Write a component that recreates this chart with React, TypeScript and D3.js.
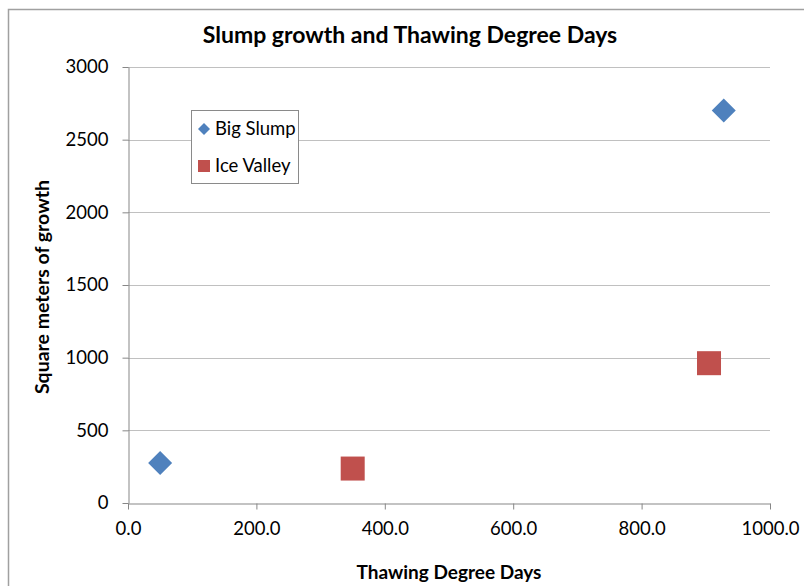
import * as d3 from "d3";
import { useEffect, useRef } from "react";

const W = 804;
const H = 586;

const bigSlumpX = [50, 928];
const bigSlumpY = [275, 2700];
const iceValleyX = [350, 905];
const iceValleyY = [237, 962];

const xTicks = [0, 200, 400, 600, 800, 1000];
const yTicks = [0, 500, 1000, 1500, 2000, 2500, 3000];

const seriesNames = ["Big Slump", "Ice Valley"];
const seriesColors = ["#4f81bd", "#c0504d"];

const FONT = "Lato, 'Open Sans', sans-serif";

export default function App() {
  const ref = useRef<SVGSVGElement>(null);

  useEffect(() => {
    const svg = d3.select(ref.current);
    svg.selectAll("*").remove();

    const left = 128;
    const right = 770;
    const top = 67;
    const bottom = 503;

    const x = d3.scaleLinear().domain([0, 1000]).range([left, right]);
    const y = d3.scaleLinear().domain([0, 3000]).range([bottom, top]);

    svg.append("rect").attr("width", W).attr("height", H).attr("fill", "#fff");

    // outer chart border
    svg
      .append("path")
      .attr("d", `M8.5,${H} V9.5 H${W}`)
      .attr("fill", "none")
      .attr("stroke", "#a0a0a0")
      .attr("stroke-width", 1.5);

    // gridlines
    svg
      .append("g")
      .selectAll("line")
      .data(yTicks.filter((t) => t > 0))
      .join("line")
      .attr("x1", left)
      .attr("x2", right)
      .attr("y1", (d) => Math.round(y(d)) + 0.5)
      .attr("y2", (d) => Math.round(y(d)) + 0.5)
      .attr("stroke", "#c0c0c0")
      .attr("stroke-width", 1.2);

    // y axis
    const yAxis = svg
      .append("g")
      .attr("transform", `translate(${left + 0.5},0)`)
      .call(
        d3
          .axisLeft(y)
          .tickValues(yTicks)
          .tickFormat((d) => String(d))
          .tickSize(6)
          .tickSizeOuter(0)
          .tickPadding(14)
      );
    yAxis.select(".domain").attr("stroke", "#878787");
    yAxis.selectAll(".tick line").attr("stroke", "#878787");
    yAxis
      .selectAll(".tick text")
      .attr("font-family", FONT)
      .attr("font-size", 18.5)
      .attr("fill", "#000");

    // x axis
    const xAxis = svg
      .append("g")
      .attr("transform", `translate(0,${bottom + 0.5})`)
      .call(
        d3
          .axisBottom(x)
          .tickValues(xTicks)
          .tickFormat((d) => d3.format(".1f")(d as number))
          .tickSize(6)
          .tickSizeOuter(0)
          .tickPadding(12)
      );
    xAxis.select(".domain").attr("stroke", "#878787");
    xAxis.selectAll(".tick line").attr("stroke", "#878787");
    xAxis
      .selectAll(".tick text")
      .attr("font-family", FONT)
      .attr("font-size", 18.5)
      .attr("fill", "#000");

    // Big Slump diamonds
    const diamond = (cx: number, cy: number, r: number) =>
      `M${cx},${cy - r} L${cx + r},${cy} L${cx},${cy + r} L${cx - r},${cy} Z`;

    svg
      .append("g")
      .selectAll("path")
      .data(bigSlumpX.map((v, i) => [v, bigSlumpY[i]]))
      .join("path")
      .attr("d", (d) => diamond(x(d[0]), y(d[1]), 12))
      .attr("fill", seriesColors[0]);

    // Ice Valley squares
    svg
      .append("g")
      .selectAll("rect")
      .data(iceValleyX.map((v, i) => [v, iceValleyY[i]]))
      .join("rect")
      .attr("x", (d) => x(d[0]) - 12)
      .attr("y", (d) => y(d[1]) - 12)
      .attr("width", 24)
      .attr("height", 24)
      .attr("fill", seriesColors[1]);

    // legend
    const lg = svg.append("g").attr("transform", "translate(191,110)");
    lg.append("rect")
      .attr("x", 0.5)
      .attr("y", 0.5)
      .attr("width", 107)
      .attr("height", 73)
      .attr("fill", "#fff")
      .attr("stroke", "#8a8a8a");
    lg.append("path").attr("d", diamond(13, 19, 6)).attr("fill", seriesColors[0]);
    lg.append("rect").attr("x", 7).attr("y", 50).attr("width", 12).attr("height", 12).attr("fill", seriesColors[1]);
    lg.selectAll("text.l")
      .data(seriesNames)
      .join("text")
      .attr("class", "l")
      .attr("x", 24)
      .attr("y", (_, i) => 19 + i * 37)
      .attr("dy", "0.35em")
      .attr("font-family", FONT)
      .attr("font-size", 18.5)
      .text((d) => d);

    // titles
    svg
      .append("text")
      .attr("x", 410)
      .attr("y", 35)
      .attr("dy", "0.35em")
      .attr("text-anchor", "middle")
      .attr("font-family", FONT)
      .attr("font-weight", "bold")
      .attr("font-size", 23)
      .text("Slump growth and Thawing Degree Days");

    svg
      .append("text")
      .attr("x", 449)
      .attr("y", 572)
      .attr("dy", "0.35em")
      .attr("text-anchor", "middle")
      .attr("font-family", FONT)
      .attr("font-weight", "bold")
      .attr("font-size", 19)
      .text("Thawing Degree Days");

    svg
      .append("text")
      .attr("transform", "translate(42,287) rotate(-90)")
      .attr("dy", "0.35em")
      .attr("text-anchor", "middle")
      .attr("font-family", FONT)
      .attr("font-weight", "bold")
      .attr("font-size", 19.5)
      .text("Square meters of growth");
  }, []);

  return (
    <svg
      ref={ref}
      width={W}
      height={H}
      style={{ position: "absolute", left: 0, top: 0, display: "block" }}
    />
  );
}
